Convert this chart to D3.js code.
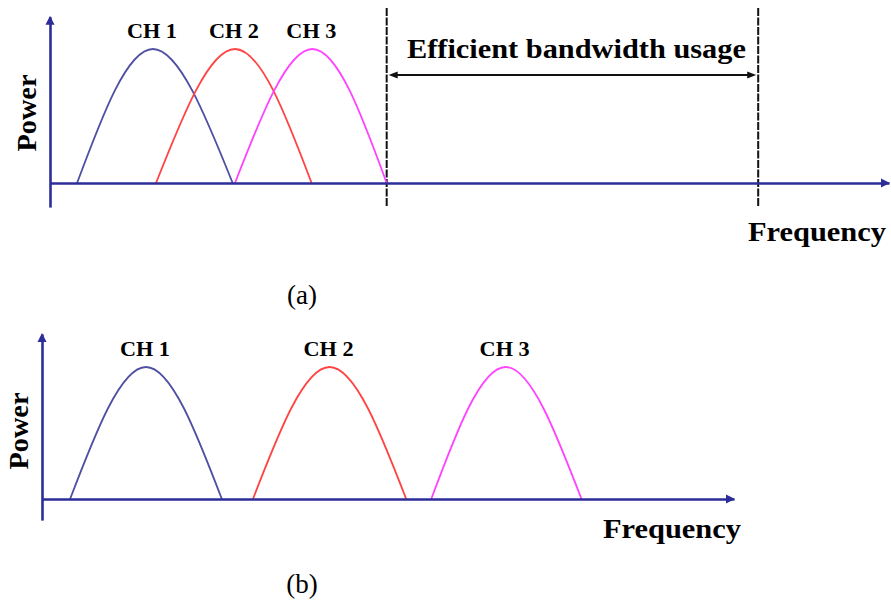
<!DOCTYPE html>
<html>
<head>
<meta charset="utf-8">
<script src="https://cdn.jsdelivr.net/npm/d3@7"></script>
<style>
  html, body { margin: 0; padding: 0; background: #fff; }
  svg { display: block; }
  text { font-family: "Liberation Serif", "Times New Roman", serif; fill: #000; }
</style>
</head>
<body>
<svg id="chart" width="891" height="600"></svg>
<script>
// Channel spectra: each channel is a bump from start to end frequency, peaking at power 1.
// Frequency unit = half a channel bandwidth.
const channels = ["CH 1", "CH 2", "CH 3"];

// (a) overlapping channels
const startA = [0.35, 1.37, 2.39];
const peakA  = [1.33, 2.39, 3.39];
const endA   = [2.36, 3.38, 4.35];
const powerA = [1, 1, 1];
const savedBandA = [4.35, 9.15];          // edges of the freed spectrum
const freqMaxA = 10.84;

// (b) separated channels
const startB = [0.37, 2.78, 5.13];
const peakB  = [1.37, 3.79, 6.11];
const endB   = [2.37, 4.80, 7.11];
const powerB = [1, 1, 1];
const freqMaxB = 9.12;

const channelColors = ["#4f4fa3", "#ff4444", "#ff44ff"];
const axisColor = "#2d2d9a";

const svg = d3.select("#chart");

function arrowHead(g, x, y, dir, color, len, half) {
  // dir: "right" | "up" | "left"
  let pts;
  if (dir === "right") pts = [[x, y], [x - len, y - half], [x - len, y + half]];
  else if (dir === "left") pts = [[x, y], [x + len, y - half], [x + len, y + half]];
  else pts = [[x, y], [x - half, y + len], [x + half, y + len]];
  g.append("path").attr("d", d3.line()(pts) + "Z").attr("fill", color).attr("stroke", "none");
}

function drawPanel(cfg) {
  const g = svg.append("g");
  const x = d3.scaleLinear().domain([0, cfg.freqMax]).range([cfg.x0, cfg.x1]);
  const y = d3.scaleLinear().domain([0, 1]).range([cfg.yZero, cfg.yPeak]);
  const yAxisScale = d3.scaleLinear()
    .domain([cfg.powerLow, cfg.powerHigh]).range([y(cfg.powerLow), y(cfg.powerHigh)]);

  // dashed guides for the freed band
  if (cfg.band) {
    g.selectAll("line.band").data(cfg.band).enter().append("line")
      .attr("x1", d => x(d)).attr("x2", d => x(d))
      .attr("y1", cfg.bandTop).attr("y2", cfg.bandBottom)
      .attr("stroke", "#111").attr("stroke-width", 2)
      .attr("stroke-dasharray", "8,1.5");
    const ay = cfg.bandArrowY;
    g.append("line")
      .attr("x1", x(cfg.band[0]) + 6).attr("x2", x(cfg.band[1]) - 6)
      .attr("y1", ay).attr("y2", ay)
      .attr("stroke", "#111").attr("stroke-width", 2);
    arrowHead(g, x(cfg.band[0]) + 2, ay, "left", "#111", 9, 3.5);
    arrowHead(g, x(cfg.band[1]) - 2, ay, "right", "#111", 9, 3.5);
    g.append("text")
      .attr("x", (x(cfg.band[0]) + x(cfg.band[1])) / 2 + 4).attr("y", cfg.bandTextY)
      .attr("text-anchor", "middle").attr("font-weight", "bold").attr("font-size", 27)
      .attr("textLength", 339).attr("lengthAdjust", "spacingAndGlyphs")
      .text("Efficient bandwidth usage");
  }

  // channel spectra
  const line = d3.line().x(d => x(d[0])).y(d => y(d[1])).curve(d3.curveNatural);
  channels.forEach((name, i) => {
    const pts = [[cfg.start[i], 0], [cfg.peak[i], cfg.power[i]], [cfg.end[i], 0]];
    g.append("path").attr("d", line(pts))
      .attr("fill", "none").attr("stroke", channelColors[i]).attr("stroke-width", 1.8);
    g.append("text")
      .attr("x", x(cfg.peak[i]) - 1).attr("y", y(cfg.power[i]) - 11)
      .attr("text-anchor", "middle").attr("font-weight", "bold").attr("font-size", 21)
      .attr("textLength", 50).attr("lengthAdjust", "spacingAndGlyphs")
      .text(name);
  });

  // axes
  const xAxis = d3.axisBottom(x).tickValues([]).tickSizeOuter(0);
  const xg = g.append("g").attr("transform", `translate(0,${y(0)})`).call(xAxis);
  xg.select(".domain").attr("stroke", axisColor).attr("stroke-width", 2.6);
  arrowHead(g, x(cfg.freqMax) + 1, y(0), "right", axisColor, 9, 4.5);

  const yAxis = d3.axisLeft(yAxisScale).tickValues([]).tickSizeOuter(0);
  const yg = g.append("g").attr("transform", `translate(${x(0)},0)`).call(yAxis);
  yg.select(".domain").attr("stroke", axisColor).attr("stroke-width", 2.6);
  arrowHead(g, x(0), yAxisScale(cfg.powerHigh) - 1, "up", axisColor, 9, 4.5);

  // axis titles
  g.append("text")
    .attr("transform", `translate(${cfg.powerX},${cfg.powerY}) rotate(-90)`)
    .attr("text-anchor", "middle").attr("font-weight", "bold").attr("font-size", 27)
    .attr("textLength", 77).attr("lengthAdjust", "spacingAndGlyphs")
    .text("Power");
  g.append("text")
    .attr("x", cfg.freqLabelX).attr("y", cfg.freqLabelY)
    .attr("font-weight", "bold").attr("font-size", 27)
    .attr("textLength", 138).attr("lengthAdjust", "spacingAndGlyphs")
    .text("Frequency");

  g.append("text")
    .attr("x", 302).attr("y", cfg.captionY)
    .attr("text-anchor", "middle").attr("font-size", 27)
    .text(cfg.caption);
}

drawPanel({
  start: startA, peak: peakA, end: endA, power: powerA,
  freqMax: freqMaxA, x0: 50, x1: 889,
  yZero: 183, yPeak: 49, powerLow: -0.18, powerHigh: 1.24,
  band: savedBandA, bandTop: 8, bandBottom: 206, bandArrowY: 75, bandTextY: 58,
  powerX: 36, powerY: 113,
  freqLabelX: 748, freqLabelY: 241,
  caption: "(a)", captionY: 304
});

drawPanel({
  start: startB, peak: peakB, end: endB, power: powerB,
  freqMax: freqMaxB, x0: 42, x1: 734,
  yZero: 499, yPeak: 367, powerLow: -0.16, powerHigh: 1.25,
  band: null,
  powerX: 28, powerY: 431,
  freqLabelX: 603, freqLabelY: 538,
  caption: "(b)", captionY: 593
});
</script>
</body>
</html>
